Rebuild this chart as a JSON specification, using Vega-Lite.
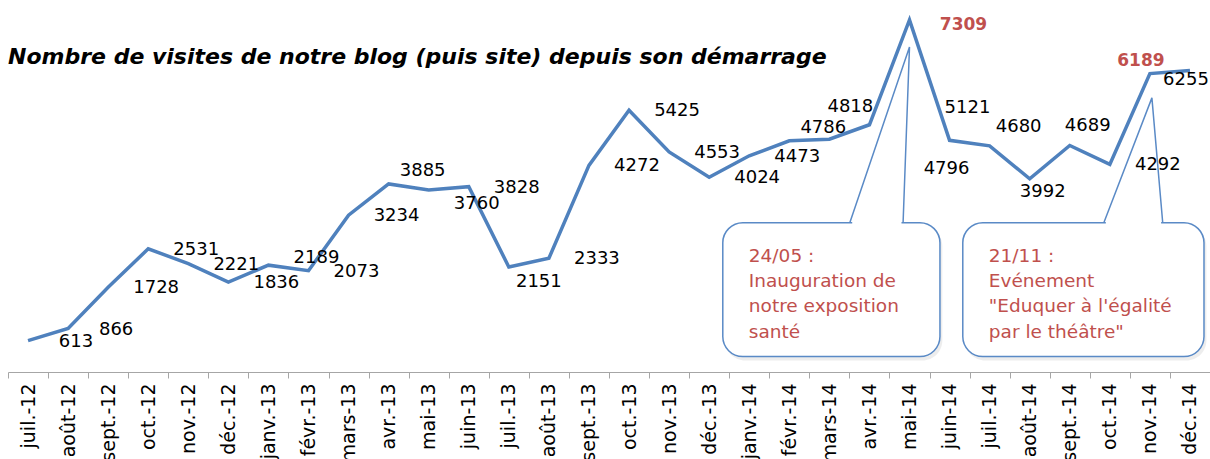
{
  "$schema": "https://vega.github.io/schema/vega-lite/v6.json",
  "width": 1202,
  "height": 370,
  "autosize": {"type": "none"},
  "padding": {"left": 8, "top": 0, "right": 0, "bottom": 89},
  "background": "white",
  "title": {
    "text": "Nombre de visites de notre blog (puis site) depuis son démarrage",
    "anchor": "start",
    "frame": "group",
    "font": "DejaVu Sans",
    "fontSize": 22,
    "fontWeight": "bold",
    "fontStyle": "italic",
    "color": "black",
    "baseline": "alphabetic",
    "offset": 0,
    "dy": 86
  },
  "datasets": {
    "visits": [
      {"month": "juil.-12", "visits": 613},
      {"month": "août-12", "visits": 866},
      {"month": "sept.-12", "visits": 1728},
      {"month": "oct.-12", "visits": 2531},
      {"month": "nov.-12", "visits": 2221},
      {"month": "déc.-12", "visits": 1836},
      {"month": "janv.-13", "visits": 2189},
      {"month": "févr.-13", "visits": 2073},
      {"month": "mars-13", "visits": 3234},
      {"month": "avr.-13", "visits": 3885},
      {"month": "mai-13", "visits": 3760},
      {"month": "juin-13", "visits": 3828},
      {"month": "juil.-13", "visits": 2151},
      {"month": "août-13", "visits": 2333},
      {"month": "sept.-13", "visits": 4272},
      {"month": "oct.-13", "visits": 5425},
      {"month": "nov.-13", "visits": 4553},
      {"month": "déc.-13", "visits": 4024},
      {"month": "janv.-14", "visits": 4473},
      {"month": "févr.-14", "visits": 4786},
      {"month": "mars-14", "visits": 4818},
      {"month": "avr.-14", "visits": 5121},
      {"month": "mai-14", "visits": 7309},
      {"month": "juin-14", "visits": 4796},
      {"month": "juil.-14", "visits": 4680},
      {"month": "août-14", "visits": 3992},
      {"month": "sept.-14", "visits": 4689},
      {"month": "oct.-14", "visits": 4292},
      {"month": "nov.-14", "visits": 6189},
      {"month": "déc.-14", "visits": 6255}
    ],
    "boxes": [
      {"x1": 17.84, "x2": 23.26, "y1": 280, "y2": 3075},
      {"x1": 23.83, "x2": 29.85, "y1": 280, "y2": 3075}
    ],
    "shadows": [
      {"x1": 17.9, "x2": 23.32, "y1": 200, "y2": 3000},
      {"x1": 23.89, "x2": 29.91, "y1": 200, "y2": 3000}
    ],
    "gaps": [
      {"x1": 21.07, "x2": 22.3, "y": 3075},
      {"x1": 27.4, "x2": 28.78, "y": 3075}
    ],
    "pointers": [
      {"c": 1, "o": 1, "u": 21.01, "v": 3075},
      {"c": 1, "o": 2, "u": 22.5, "v": 6746},
      {"c": 1, "o": 3, "u": 22.34, "v": 3075},
      {"c": 2, "o": 1, "u": 27.35, "v": 3075},
      {"c": 2, "o": 2, "u": 28.55, "v": 5682},
      {"c": 2, "o": 3, "u": 28.82, "v": 3075}
    ],
    "notes": [
      {"u": 18.49, "v": 2260, "t": ["24/05 :", "Inauguration de", "notre exposition", "santé"]},
      {"u": 24.48, "v": 2260, "t": ["21/11 :", "Evénement", "\"Eduquer à l'égalité", "par le théâtre\""]}
    ]
  },
  "layer": [
    {
      "layer": [
        {
          "data": {"name": "shadows"},
          "mark": {"type": "rect", "cornerRadius": 20, "fill": "#000000", "opacity": 0.07},
          "encoding": {
            "x": {"field": "x1", "type": "quantitative", "scale": {"domain": [0, 30], "nice": false, "zero": false}, "axis": null},
            "x2": {"field": "x2"},
            "y": {"field": "y1", "type": "quantitative", "scale": {"domain": [0, 7726], "nice": false}, "axis": null},
            "y2": {"field": "y2"}
          }
        },
        {
          "data": {"name": "boxes"},
          "mark": {"type": "rect", "cornerRadius": 20, "fill": "white", "stroke": "#5A8AC6", "strokeWidth": 1.5},
          "encoding": {
            "x": {"field": "x1", "type": "quantitative", "scale": {"domain": [0, 30], "nice": false, "zero": false}, "axis": null},
            "x2": {"field": "x2"},
            "y": {"field": "y1", "type": "quantitative", "axis": null},
            "y2": {"field": "y2"}
          }
        },
        {
          "data": {"name": "gaps"},
          "mark": {"type": "rule", "stroke": "white", "strokeWidth": 4},
          "encoding": {
            "x": {"field": "x1", "type": "quantitative", "axis": null},
            "x2": {"field": "x2"},
            "y": {"field": "y", "type": "quantitative", "axis": null}
          }
        },
        {
          "data": {"name": "pointers"},
          "mark": {"type": "line", "stroke": "#5A8AC6", "strokeWidth": 1.5, "strokeJoin": "miter"},
          "encoding": {
            "x": {"field": "u", "type": "quantitative", "axis": null},
            "y": {"field": "v", "type": "quantitative", "axis": null},
            "detail": {"field": "c"},
            "order": {"field": "o"}
          }
        },
        {
          "data": {"name": "notes"},
          "mark": {"type": "text", "align": "left", "baseline": "alphabetic", "font": "DejaVu Sans", "fontSize": 18.5, "lineHeight": 25.3, "color": "#C0504D"},
          "encoding": {
            "x": {"field": "u", "type": "quantitative", "axis": null},
            "y": {"field": "v", "type": "quantitative", "axis": null},
            "text": {"field": "t"}
          }
        }
      ]
    },
    {
      "data": {"name": "visits"},
      "encoding": {
        "x": {
          "field": "month",
          "type": "nominal",
          "sort": null,
          "scale": {
            "type": "band",
            "paddingInner": 0,
            "paddingOuter": 0,
            "domain": ["juil.-12","août-12","sept.-12","oct.-12","nov.-12","déc.-12","janv.-13","févr.-13","mars-13","avr.-13","mai-13","juin-13","juil.-13","août-13","sept.-13","oct.-13","nov.-13","déc.-13","janv.-14","févr.-14","mars-14","avr.-14","mai-14","juin-14","juil.-14","août-14","sept.-14","oct.-14","nov.-14","déc.-14"]
          },
          "axis": {
            "title": null,
            "tickBand": "extent",
            "offset": 2,
            "domainColor": "#A6A6A6",
            "tickColor": "#A6A6A6",
            "tickSize": 6,
            "labelAngle": -90,
            "labelPadding": 5,
            "labelFont": "DejaVu Sans",
            "labelFontSize": 19,
            "labelColor": "black",
            "labelOverlap": false
          }
        },
        "y": {"field": "visits", "type": "quantitative", "scale": {"domain": [0, 7726], "nice": false}, "axis": null}
      },
      "layer": [
        {"mark": {"type": "line", "color": "#4F81BD", "strokeWidth": 3.5, "strokeJoin": "miter"}},
        {
          "transform": [{"filter": {"not": {"field": "visits", "oneOf": [2189, 3885, 3760, 2151, 4786, 4818, 5121, 4796, 4680, 3992, 4689, 6255, 7309, 6189]}}}],
          "mark": {"type": "text", "dx": 48, "dy": 1},
          "encoding": {"text": {"field": "visits", "type": "quantitative", "format": "d"}}
        },
        {"transform": [{"filter": {"field": "visits", "equal": 2189}}], "mark": {"type": "text", "dx": 48, "dy": -7}, "encoding": {"text": {"field": "visits", "type": "quantitative", "format": "d"}}},
        {"transform": [{"filter": {"field": "visits", "oneOf": [3885, 4786]}}], "mark": {"type": "text", "dx": 34, "dy": -13}, "encoding": {"text": {"field": "visits", "type": "quantitative", "format": "d"}}},
        {"transform": [{"filter": {"field": "visits", "equal": 3760}}], "mark": {"type": "text", "dx": 48, "dy": 14}, "encoding": {"text": {"field": "visits", "type": "quantitative", "format": "d"}}},
        {"transform": [{"filter": {"field": "visits", "equal": 2151}}], "mark": {"type": "text", "dx": 30, "dy": 15}, "encoding": {"text": {"field": "visits", "type": "quantitative", "format": "d"}}},
        {"transform": [{"filter": {"field": "visits", "equal": 4818}}], "mark": {"type": "text", "dx": 21, "dy": -32}, "encoding": {"text": {"field": "visits", "type": "quantitative", "format": "d"}}},
        {"transform": [{"filter": {"field": "visits", "equal": 5121}}], "mark": {"type": "text", "dx": 98, "dy": -17}, "encoding": {"text": {"field": "visits", "type": "quantitative", "format": "d"}}},
        {"transform": [{"filter": {"field": "visits", "equal": 4796}}], "mark": {"type": "text", "dx": -3, "dy": 29}, "encoding": {"text": {"field": "visits", "type": "quantitative", "format": "d"}}},
        {"transform": [{"filter": {"field": "visits", "equal": 4680}}], "mark": {"type": "text", "dx": 29, "dy": -19}, "encoding": {"text": {"field": "visits", "type": "quantitative", "format": "d"}}},
        {"transform": [{"filter": {"field": "visits", "equal": 4689}}], "mark": {"type": "text", "dx": 18, "dy": -19}, "encoding": {"text": {"field": "visits", "type": "quantitative", "format": "d"}}},
        {"transform": [{"filter": {"field": "visits", "equal": 3992}}], "mark": {"type": "text", "dx": 13, "dy": 13}, "encoding": {"text": {"field": "visits", "type": "quantitative", "format": "d"}}},
        {"transform": [{"filter": {"field": "visits", "equal": 6255}}], "mark": {"type": "text", "dx": -4, "dy": 10}, "encoding": {"text": {"field": "visits", "type": "quantitative", "format": "d"}}},
        {"transform": [{"filter": {"field": "visits", "equal": 7309}}], "mark": {"type": "text", "dx": 54, "dy": 5, "fontWeight": "bold", "fontSize": 17, "color": "#C0504D"}, "encoding": {"text": {"field": "visits", "type": "quantitative", "format": "d"}}},
        {"transform": [{"filter": {"field": "visits", "equal": 6189}}], "mark": {"type": "text", "dx": -9, "dy": -13, "fontWeight": "bold", "fontSize": 17, "color": "#C0504D"}, "encoding": {"text": {"field": "visits", "type": "quantitative", "format": "d"}}}
      ]
    }
  ],
  "resolve": {"scale": {"x": "independent"}},
  "config": {
    "view": {"stroke": null},
    "text": {"font": "DejaVu Sans", "fontSize": 18, "baseline": "middle", "align": "center", "color": "black"}
  }
}
